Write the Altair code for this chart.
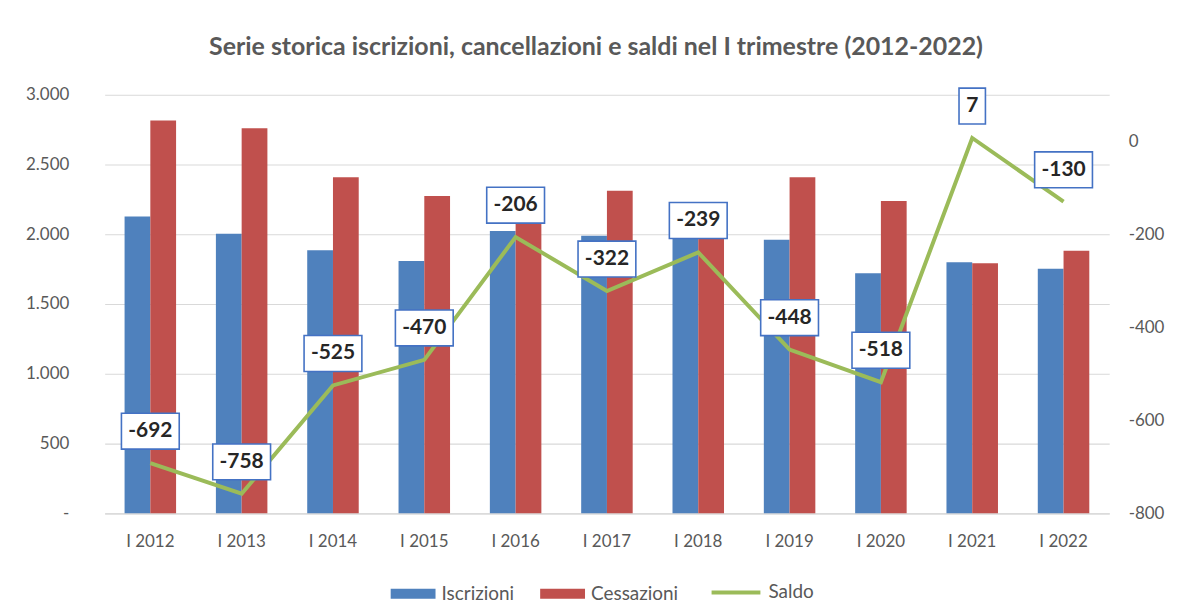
import altair as alt
import pandas as pd

periodi = ["I 2012", "I 2013", "I 2014", "I 2015", "I 2016", "I 2017",
           "I 2018", "I 2019", "I 2020", "I 2021", "I 2022"]
iscrizioni = [2127, 2003, 1885, 1809, 2024, 1990, 1975, 1960, 1720, 1800, 1752]
cessazioni = [2816, 2759, 2408, 2275, 2230, 2312, 2214, 2408, 2238, 1793, 1882]
saldo = [-692, -758, -525, -470, -206, -322, -239, -448, -518, 7, -130]
serie_barre = ["Iscrizioni", "Cessazioni"]

BLUE = "#4F81BD"
RED = "#C0504D"
GREEN = "#9BBB59"
GRAY = "#595959"
FONT = "Lato"

rows = []
for p, i, c in zip(periodi, iscrizioni, cessazioni):
    rows.append({"periodo": p, "serie": "Iscrizioni", "valore": i})
    rows.append({"periodo": p, "serie": "Cessazioni", "valore": c})
bars_df = pd.DataFrame(rows)

lab = [str(v) for v in saldo]
box_w = [16 + 10.5 * len(s) for s in lab]
saldo_df = pd.DataFrame({
    "periodo": periodi,
    "saldo": saldo,
    "serie": ["Saldo"] * len(periodi),
    "label": lab,
    "path": [f"M-1,-{36 / w:.4f}H1V{36 / w:.4f}H-1Z" for w in box_w],
    "size": [w * w for w in box_w],
})

x_enc = alt.X(
    "periodo:N", sort=periodi, title=None,
    scale=alt.Scale(paddingInner=0.436, paddingOuter=0.218),
    axis=alt.Axis(labelAngle=0, labelFontSize=17, labelColor=GRAY, labelFont=FONT,
                  labelPadding=20, ticks=False, domainColor="#D9D9D9", domainWidth=1.2),
)

bars = alt.Chart(bars_df).mark_bar().encode(
    x=x_enc,
    xOffset=alt.XOffset("serie:N", sort=serie_barre,
                        scale=alt.Scale(paddingInner=0, paddingOuter=0)),
    y=alt.Y("valore:Q", title=None,
            scale=alt.Scale(domain=[0, 3000], nice=False),
            axis=alt.Axis(orient="left", values=[0, 500, 1000, 1500, 2000, 2500, 3000],
                          labelExpr="datum.value == 0 ? '-' : replace(format(datum.value, ','), ',', '.')",
                          labelFontSize=17, labelColor=GRAY, labelFont=FONT, labelPadding=36,
                          ticks=False, domain=False, grid=True, gridColor="#D9D9D9",
                          gridWidth=1.2)),
    color=alt.Color("serie:N", sort=serie_barre,
                    scale=alt.Scale(domain=serie_barre, range=[BLUE, RED]),
                    legend=alt.Legend(title=None, orient="none", legendX=287, legendY=478,
                                      direction="horizontal",
                                      symbolType="M-1,-0.22H1V0.22H-1Z", symbolSize=2025,
                                      symbolStrokeWidth=0, labelFontSize=19,
                                      labelColor=GRAY, labelFont=FONT, labelOffset=6,
                                      columnPadding=26, padding=0)),
)

right_axis = alt.Axis(orient="right", values=[-800, -600, -400, -200, 0],
                      labelExpr="'' + datum.value",
                      labelFontSize=17, labelColor=GRAY, labelFont=FONT,
                      labelPadding=19, ticks=False, domain=False, grid=False)
y_right = alt.Y("saldo:Q", title=None,
                scale=alt.Scale(domain=[-800, 100], nice=False), axis=right_axis)

line = alt.Chart(saldo_df).mark_line(strokeWidth=4, strokeJoin="miter").encode(
    x=alt.X("periodo:N", sort=periodi),
    y=y_right,
    stroke=alt.Stroke("serie:N", scale=alt.Scale(domain=["Saldo"], range=[GREEN]),
                      legend=alt.Legend(title=None, orient="none", legendX=607, legendY=473,
                                        symbolType="stroke", symbolSize=2401,
                                        symbolStrokeWidth=4, labelFontSize=19,
                                        labelColor=GRAY, labelFont=FONT, labelOffset=6,
                                        padding=0)),
)

boxes = alt.Chart(saldo_df).mark_point(
    filled=True, fill="white", stroke="#4472C4", strokeWidth=1.6, opacity=1, yOffset=-32
).encode(
    x=alt.X("periodo:N", sort=periodi),
    y=y_right,
    shape=alt.Shape("path:N", scale=None),
    size=alt.Size("size:Q", scale=None),
)

texts = alt.Chart(saldo_df).mark_text(
    fontSize=21, fontWeight="bold", color="#262626", font=FONT, yOffset=-32,
    baseline="middle", align="center"
).encode(
    x=alt.X("periodo:N", sort=periodi),
    y=y_right,
    text="label:N",
)

right = alt.layer(line, boxes, texts)

chart = alt.layer(bars, right).resolve_scale(
    y="independent", color="independent"
).properties(
    width=1008, height=420,
    background="white",
    autosize=alt.AutoSizeParams(type="none"),
    padding={"left": 97, "top": 86, "right": 60, "bottom": 92},
    title=alt.TitleParams(
        "Serie storica iscrizioni, cancellazioni e saldi nel I trimestre (2012-2022)",
        fontSize=25, fontWeight="bold", color=GRAY, font=FONT, anchor="middle",
        baseline="bottom", offset=0, dx=-11),
).configure_view(strokeWidth=0, stroke="transparent").configure_axisY(
    domain=False, ticks=False
)

chart.save("out.html", embed_options={"renderer": "svg", "actions": False})
